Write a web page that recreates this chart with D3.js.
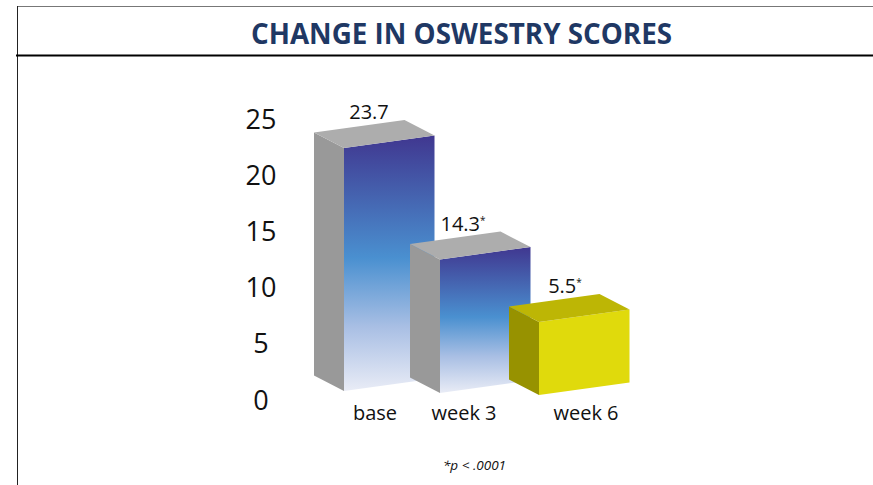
<!DOCTYPE html>
<html>
<head>
<meta charset="utf-8">
<script src="https://cdn.jsdelivr.net/npm/d3@7"></script>
<style>
  html, body { margin: 0; padding: 0; background: #fff; }
  svg { display: block; }
  text { font-family: "Open Sans", "Noto Sans", sans-serif; fill: #111; }
</style>
</head>
<body>
<div id="chart"></div>
<script>
// Values
const titleText = "CHANGE IN OSWESTRY SCORES";
const footnote = "*p < .0001";
const categories = ["base", "week 3", "week 6"];
const values = [23.7, 14.3, 5.5];
const marks = ["", "*", "*"];
const axisTicks = [0, 5, 10, 15, 20, 25];

const width = 873, height = 485;

// The drawn bars are not to scale with the printed axis, so they get their own scale
const yAxisScale = d3.scaleLinear().domain([0, 25]).range([400, 119]);
const barHeight = d3.scaleLinear().domain([0, 5.5, 14.3, 23.7]).range([0, 73, 133.5, 243]);
const x = d3.scaleOrdinal().domain(categories).range([344, 440, 539]);
const baseline = d3.scalePoint().domain(categories).range([391, 395]);

// 3D box shape
const barW = 90.5, rise = 12.5, depthX = -30, depthY = -15.5;

// label nudges, per category
const catShift = { "base": 31, "week 3": 24, "week 6": 47 };
const valShift = { "base": 25, "week 3": 23, "week 6": 26 };

const svg = d3.select("#chart").append("svg")
    .attr("width", width)
    .attr("height", height);

// Frame
svg.append("line").attr("x1", 17).attr("x2", width).attr("y1", 6.5).attr("y2", 6.5)
    .attr("stroke", "#777").attr("stroke-width", 1.2);
svg.append("line").attr("x1", 17.5).attr("x2", 17.5).attr("y1", 6).attr("y2", height)
    .attr("stroke", "#222").attr("stroke-width", 1);
svg.append("line").attr("x1", 16).attr("x2", width).attr("y1", 55.5).attr("y2", 55.5)
    .attr("stroke", "#000").attr("stroke-width", 2);

svg.append("text")
    .attr("x", 461.5).attr("y", 44)
    .attr("text-anchor", "middle")
    .attr("textLength", 421)
    .attr("lengthAdjust", "spacingAndGlyphs")
    .style("font-size", "29px").style("font-weight", 700).style("fill", "#1f3864")
    .text(titleText);

// Gradient for the blue front faces
const grad = svg.append("defs").append("linearGradient")
    .attr("id", "blueFade")
    .attr("x1", 0).attr("x2", 0).attr("y1", 0).attr("y2", 1);
grad.selectAll("stop")
    .data([["0%", "#403790"], ["48%", "#4a90d0"], ["75%", "#a9bfe4"], ["100%", "#e9ecf6"]])
    .join("stop")
    .attr("offset", d => d[0])
    .attr("stop-color", d => d[1]);

// Y axis, numbers only
const yAxis = svg.append("g")
    .attr("transform", "translate(261,0.5)")
    .call(d3.axisLeft(yAxisScale).tickValues(axisTicks).tickSize(0).tickPadding(0));
yAxis.select(".domain").remove();
yAxis.selectAll("text")
    .attr("x", 0)
    .attr("text-anchor", "middle")
    .style("font-family", '"Open Sans", "Noto Sans", sans-serif')
    .style("font-size", "27px")
    .style("fill", "#111");

function pts(list) {
    return list.map(p => p.join(",")).join(" ");
}

const rows = categories.map((c, i) => ({ cat: c, value: values[i], mark: marks[i], yellow: i === 2 }));

const bar = svg.selectAll("g.bar")
    .data(rows)
    .join("g")
    .attr("class", "bar");

// front face
bar.append("polygon")
    .attr("points", d => {
        const x0 = x(d.cat), b = baseline(d.cat), t = b - barHeight(d.value);
        return pts([[x0, t], [x0 + barW, t - rise], [x0 + barW, b - rise], [x0, b]]);
    })
    .attr("fill", d => d.yellow ? "#e0da0c" : "url(#blueFade)");

// left face
bar.append("polygon")
    .attr("points", d => {
        const x0 = x(d.cat), b = baseline(d.cat), t = b - barHeight(d.value);
        return pts([[x0, t], [x0, b], [x0 + depthX, b + depthY], [x0 + depthX, t + depthY]]);
    })
    .attr("fill", d => d.yellow ? "#979200" : "#999999");

// top face
bar.append("polygon")
    .attr("points", d => {
        const x0 = x(d.cat), b = baseline(d.cat), t = b - barHeight(d.value);
        return pts([[x0, t], [x0 + barW, t - rise], [x0 + barW + depthX, t - rise + depthY], [x0 + depthX, t + depthY]]);
    })
    .attr("fill", d => d.yellow ? "#bdb605" : "#adadad");

// value labels, with the small asterisk
const valueLabel = bar.append("text")
    .attr("x", d => x(d.cat) + valShift[d.cat])
    .attr("y", d => baseline(d.cat) - barHeight(d.value) - rise + depthY - 1)
    .attr("text-anchor", "middle")
    .style("font-size", "20px");
valueLabel.append("tspan").text(d => d.value.toFixed(1));
valueLabel.append("tspan")
    .attr("dy", -7)
    .style("font-size", "10px")
    .text(d => d.mark);

// category labels
bar.append("text")
    .attr("x", d => x(d.cat) + catShift[d.cat])
    .attr("y", 420)
    .attr("text-anchor", "middle")
    .style("font-size", "20px")
    .text(d => d.cat);

svg.append("text")
    .attr("x", 474.5).attr("y", 470)
    .attr("text-anchor", "middle")
    .style("font-size", "13.5px").style("font-style", "italic")
    .text(footnote);
</script>
</body>
</html>
